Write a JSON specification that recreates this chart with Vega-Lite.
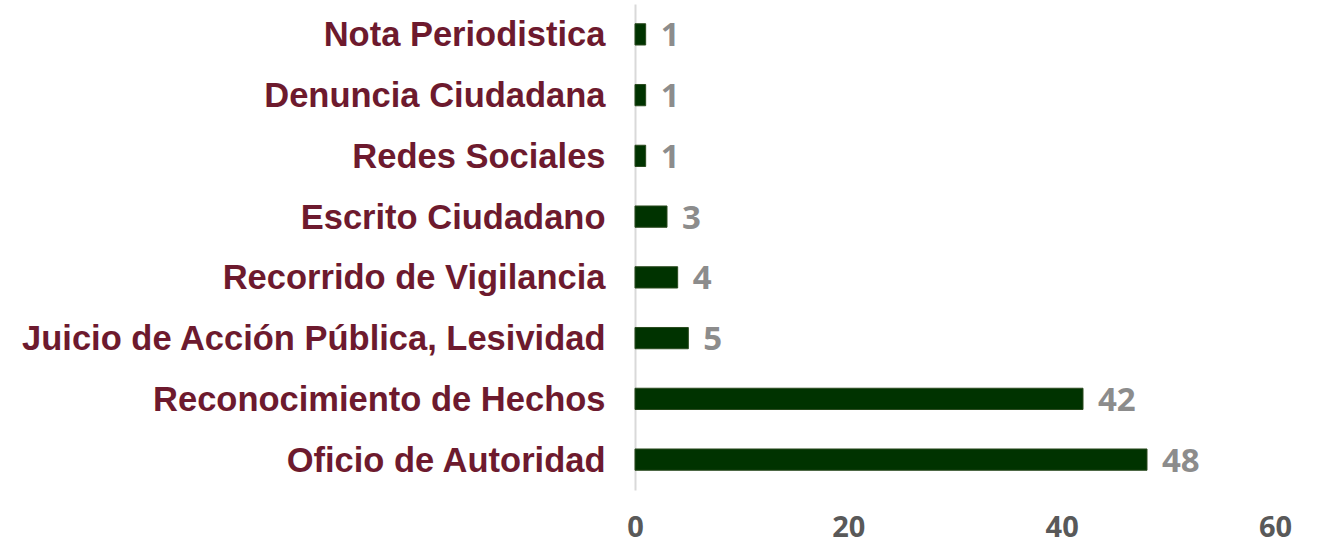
{
  "$schema": "https://vega.github.io/schema/vega-lite/v6.json",
  "autosize": "none",
  "width": 640,
  "height": 486,
  "padding": {"left": 635, "top": 4, "right": 44, "bottom": 53},
  "background": "white",
  "config": {"view": {"stroke": null}},
  "data": {"values": [
    {"fuente": "Nota Periodistica", "n": 1},
    {"fuente": "Denuncia Ciudadana", "n": 1},
    {"fuente": "Redes Sociales", "n": 1},
    {"fuente": "Escrito Ciudadano", "n": 3},
    {"fuente": "Recorrido de Vigilancia", "n": 4},
    {"fuente": "Juicio de Acción Pública, Lesividad", "n": 5},
    {"fuente": "Reconocimiento de Hechos", "n": 42},
    {"fuente": "Oficio de Autoridad", "n": 48}
  ]},
  "encoding": {
    "y": {"field": "fuente", "type": "nominal", "sort": null,
      "scale": {"paddingInner": 0.65, "paddingOuter": 0.325},
      "axis": {"title": null, "ticks": false, "domainColor": "#d9d9d9", "domainWidth": 2,
        "labelFont": "Liberation Sans", "labelFontWeight": "bold", "labelFontSize": 34.5,
        "labelColor": "#6d1a2e", "labelPadding": 30, "labelLimit": 700, "labelOffset": 2}},
    "x": {"field": "n", "type": "quantitative",
      "scale": {"domain": [0, 60]},
      "axis": {"title": null, "values": [0, 20, 40, 60], "grid": false, "domain": false, "ticks": false,
        "labelFlush": false, "labelBaseline": "middle",
        "labelFont": "Open Sans", "labelFontWeight": "bold", "labelFontSize": 29,
        "labelColor": "#595959", "labelPadding": 37}}
  },
  "layer": [
    {"mark": {"type": "bar", "color": "#003300", "stroke": "#2a4a1f", "strokeWidth": 1}},
    {"mark": {"type": "text", "align": "left", "baseline": "middle", "dx": 15, "dy": 2,
      "font": "Open Sans", "fontWeight": "bold", "fontSize": 33, "color": "#8c8c8c"},
     "encoding": {"text": {"field": "n", "type": "quantitative"}}}
  ]
}
